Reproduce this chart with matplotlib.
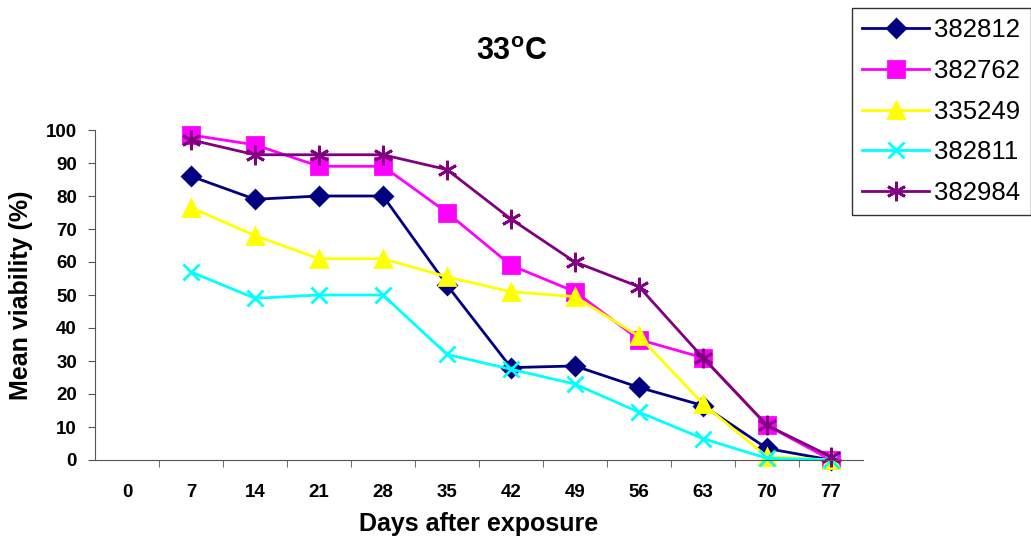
import numpy as np
import matplotlib
matplotlib.use("Agg")
import matplotlib.pyplot as plt

plt.rcParams['font.family'] = ['Liberation Sans', 'DejaVu Sans']
plt.rcParams['mathtext.fontset'] = 'custom'
plt.rcParams['mathtext.rm'] = 'Liberation Sans'
plt.rcParams['mathtext.bf'] = 'Liberation Sans:bold'

days = [0, 7, 14, 21, 28, 35, 42, 49, 56, 63, 70, 77]
x_days = days[1:]  # no measurement on day 0

v382812 = [86, 79, 80, 80, 53, 28, 28.5, 22, 16.5, 3.5, 0]
v382762 = [98.5, 95.5, 89, 89, 75, 59, 51, 36.5, 31, 10.5, 0]
v335249 = [76.5, 68, 61, 61, 55.5, 51, 49.5, 37.5, 17, 1, 0]
v382811 = [57, 49, 50, 50, 32, 27.5, 23, 14.5, 6.5, 0.5, 0]
v382984 = [97, 92.5, 92.5, 92.5, 88, 73, 60, 52.5, 31, 10.5, 1]

asterisk = (6, 2, 0)
series = [
    ('382812', v382812, '#000080', 'D', 9),
    ('382762', v382762, '#FF00FF', 's', 11),
    ('335249', v335249, '#FFFF00', '^', 12),
    ('382811', v382811, '#00FFFF', 'x', 12),
    ('382984', v382984, '#800080', asterisk, 14),
]

fig = plt.figure(figsize=(10.31, 5.42), dpi=100)
ax = fig.add_axes([95/1031, 82/542, 768/1031, 330/542])

for name, vals, col, mk, ms in series:
    ax.plot(x_days, vals, color=col, lw=2, marker=mk, markersize=ms,
            markerfacecolor=col, markeredgecolor=col, markeredgewidth=2,
            label=name, clip_on=False)

ax.set_xlim(-3.5, 80.5)
ax.set_ylim(0, 100)
ax.set_xticks(days)
ax.set_xticklabels([str(d) for d in days], fontsize=13.5, fontweight='bold')
ax.set_xticks(np.arange(3.5, 80, 7), minor=True)
ax.tick_params(axis='x', which='major', length=0, pad=17)
ax.tick_params(axis='x', which='minor', length=5, direction='out', color='#555555')
ax.set_yticks(range(0, 101, 10))
ax.set_yticklabels([str(v) for v in range(0, 101, 10)], fontsize=13.5, fontweight='bold')
ax.tick_params(axis='y', length=5, direction='out', color='#555555', pad=8)
ax.spines['top'].set_visible(False)
ax.spines['right'].set_visible(False)
ax.spines['left'].set_color('#555555')
ax.spines['bottom'].set_color('#555555')

ax.set_xlabel('Days after exposure', fontsize=18, fontweight='bold', labelpad=8)
ax.set_ylabel('Mean viability (%)', fontsize=18, fontweight='bold', labelpad=9)

fig.text(512/1031, 1 - 52/542, r'$\mathbf{33^{o}C}$', fontsize=22,
         ha='center', va='center')

leg = fig.legend(loc='upper left', bbox_to_anchor=(852/1031, 1 - 8/542),
                 fontsize=18.5, frameon=True, fancybox=False, edgecolor='black',
                 handlelength=2.6, borderpad=0.4, labelspacing=0.65,
                 handletextpad=0.2, borderaxespad=0)
leg.get_frame().set_linewidth(1)

fig.savefig('out.png', dpi=100)
